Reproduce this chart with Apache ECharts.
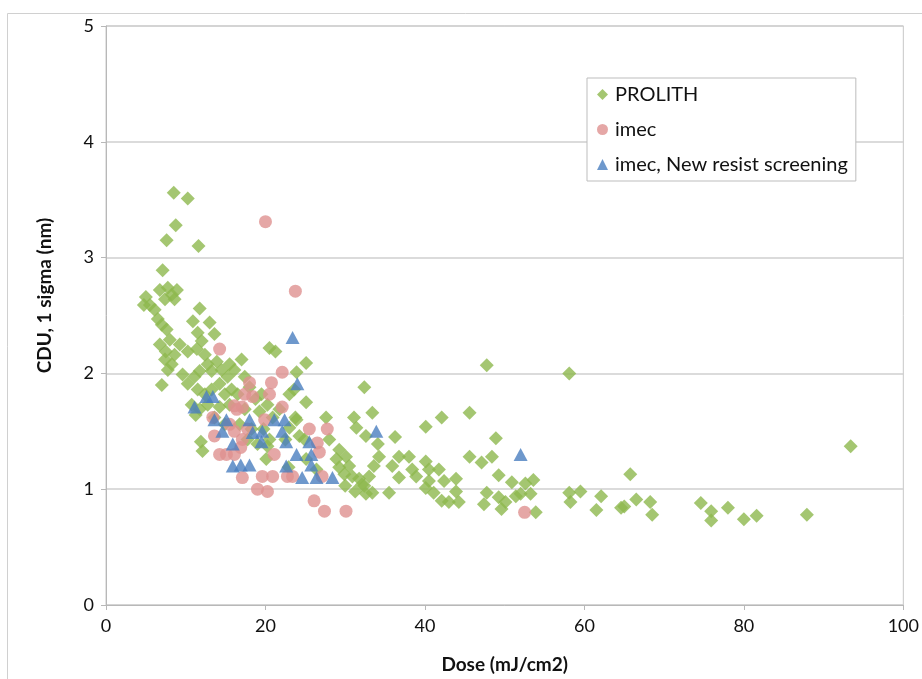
<!DOCTYPE html>
<html>
<head>
<meta charset="utf-8">
<script src="https://cdn.jsdelivr.net/npm/echarts@6/dist/echarts.min.js"></script>
<style>html,body{margin:0;padding:0;background:#fff}#c{width:922px;height:679px}</style>
</head>
<body>
<div id="c"></div>
<script>
var xTicks = [0, 20, 40, 60, 80, 100];
var yTicks = [0, 1, 2, 3, 4, 5];
var seriesNames = ['PROLITH', 'imec', 'imec, New resist screening'];

var prolithDose = [8.5,10.25,8.75,7.6,11.6,7.1,6.75,7.75,8.25,8.6,7.4,8.9,5,5.5,4.75,6.1,6.5,7,7.6,8,6.75,7.5,8.6,8.25,7.4,
  11.75,10.9,11.5,12,11.4,12.4,10.25,9.25,9.6,7.75,7,13,13.6,12.75,13.25,13.9,14.5,15.25,16.1,17,15.5,
  10.25,11.1,11.75,11.5,12.4,13.25,14.25,14.9,15.75,16.5,17.4,18,18.75,19.5,20.25,20.9,21.75,19.25,17.4,15.5,
  14.25,12.75,11.75,11.25,10.75,13.6,14.9,16.75,18.25,19.75,20.5,19,17.75,11.9,12.1,22.5,23,23.75,
  20.5,21.25,25.1,23.9,23.6,23,25.1,23.9,27.6,31.1,31.4,32.4,24.25,24.9,28,29.25,30.1,28.9,30.5,29.25,
  30.9,29.9,31.75,32.4,20.25,20.1,25.1,26.4,30,31.25,22.9,
  47.75,33.4,42.1,45.6,40.1,32.6,36.25,48.9,34.1,45.6,48.4,47.1,36.75,38,40.1,34.25,33.6,35.9,38.4,40.5,
  41.75,49.25,50.9,53.6,52.6,33,36.75,38.9,40.5,42.4,43.9,32.1,33.4,35.5,40.1,41.1,43.9,42.1,43,44.25,
  47.75,49.25,50.1,49.6,51.4,52,53.25,47.4,53.9,32.6,
  58.1,93.4,65.75,58.1,59.5,58.25,62.1,61.5,65,64.6,66.5,68.25,68.5,74.6,75.9,75.9,78,80,81.6,87.9];
var prolithCdu = [3.56,3.51,3.28,3.15,3.10,2.89,2.72,2.74,2.68,2.64,2.64,2.72,2.66,2.59,2.59,2.55,2.47,2.42,2.38,2.29,2.25,2.19,2.16,2.08,2.12,
  2.56,2.45,2.35,2.28,2.21,2.16,2.19,2.25,1.99,2.03,1.9,2.44,2.34,2.08,2.02,2.1,2.03,1.97,2.03,2.12,2.08,
  1.91,1.97,2.02,1.86,1.82,1.86,1.91,1.82,1.86,1.82,1.97,1.88,1.78,1.82,1.73,1.62,1.69,1.67,1.69,1.73,
  1.71,1.73,1.69,1.64,1.73,1.62,1.56,1.56,1.52,1.52,1.43,1.39,1.43,1.41,1.33,1.43,1.53,1.62,
  2.22,2.19,2.09,2.01,1.86,1.82,1.75,1.6,1.62,1.62,1.53,1.88,1.46,1.43,1.43,1.34,1.28,1.26,1.2,1.19,
  1.11,1.13,1.09,1.03,1.37,1.26,1.26,1.17,1.03,0.98,1.19,
  2.07,1.66,1.62,1.66,1.54,1.46,1.45,1.44,1.39,1.28,1.28,1.23,1.28,1.28,1.24,1.28,1.2,1.2,1.17,1.17,
  1.17,1.12,1.06,1.08,1.05,1.11,1.1,1.11,1.07,1.07,1.09,1.04,0.97,0.97,1.01,0.97,0.98,0.9,0.89,0.89,
  0.97,0.93,0.89,0.83,0.94,0.96,0.96,0.87,0.8,0.96,
  2.0,1.37,1.13,0.97,0.98,0.89,0.94,0.82,0.85,0.84,0.91,0.89,0.78,0.88,0.81,0.73,0.84,0.74,0.77,0.78];

var imecDose = [20,23.75,14.25,22.1,18,20.75,17.4,18.4,20.5,16.1,17.1,22.1,19.9,25.5,27.75,15.5,16.1,17.1,26.5,26.75,
  21.1,16.1,17.1,19.6,20.9,22.75,23.4,27.1,19,20.25,26.1,27.4,30.1,52.5,13.4,13.6,14.25,15.1,16.9,17.75,16.4];
var imecCdu = [3.31,2.71,2.21,2.01,1.92,1.92,1.82,1.8,1.82,1.72,1.71,1.71,1.6,1.52,1.52,1.56,1.5,1.43,1.4,1.32,
  1.3,1.3,1.1,1.11,1.11,1.11,1.11,1.11,1.0,0.98,0.9,0.81,0.81,0.8,1.62,1.46,1.3,1.3,1.36,1.52,1.69];

var newResistDose = [23.4,24,12.6,13.4,11.1,13.6,15.1,14.6,15.9,15.9,16.9,18,18,21.1,22.4,18.4,19.6,22.1,19.5,22.6,
  25.5,23.9,25.75,22.6,25.75,24.6,26.4,28.4,33.9,52];
var newResistCdu = [2.31,1.91,1.8,1.8,1.71,1.6,1.6,1.5,1.39,1.2,1.21,1.21,1.6,1.6,1.6,1.49,1.5,1.5,1.41,1.41,
  1.41,1.3,1.3,1.2,1.21,1.1,1.1,1.1,1.5,1.3];

function zip(xs, ys) { return xs.map(function (x, i) { return [x, ys[i]]; }); }

var FONT = 'Lato, "Open Sans", sans-serif';
var chart = echarts.init(document.getElementById('c'), null, { renderer: 'canvas' });
chart.setOption({
  animation: false,
  backgroundColor: '#fff',
  graphic: [{
    type: 'rect', left: 5, top: 11, silent: true, z: -10,
    shape: { width: 940, height: 700 },
    style: { fill: 'none', stroke: '#d0d0d0', lineWidth: 1 }
  }],
  grid: { left: 106, right: 17, top: 26, bottom: 73, show: true, borderColor: '#c8c8c8', borderWidth: 1, backgroundColor: 'transparent' },
  legend: {
    orient: 'vertical', left: 587, top: 78,
    data: seriesNames,
    itemWidth: 11, itemHeight: 11, itemGap: 14,
    padding: [6, 8, 6, 10],
    borderColor: '#bdbdbd', borderWidth: 1, backgroundColor: '#fff',
    textStyle: { fontFamily: FONT, fontSize: 20, color: '#111', lineHeight: 21, padding: [0, 0, 0, 2] }
  },
  xAxis: {
    type: 'value', min: 0, max: 100, interval: 20,
    name: 'Dose (mJ/cm2)', nameLocation: 'middle', nameGap: 50,
    nameTextStyle: { fontFamily: FONT, fontSize: 19, fontWeight: 'bold', color: '#111' },
    axisLine: { show: true, lineStyle: { color: '#b8b8b8' } },
    axisTick: { show: true, length: 5, lineStyle: { color: '#b8b8b8' } },
    axisLabel: { fontFamily: FONT, fontSize: 18, color: '#111', margin: 12,
      formatter: function (v) { return xTicks.indexOf(v) >= 0 ? String(v) : ''; } },
    splitLine: { show: false }
  },
  yAxis: {
    type: 'value', min: 0, max: 5, interval: 1,
    name: 'CDU, 1 sigma (nm)', nameLocation: 'middle', nameGap: 52,
    nameTextStyle: { fontFamily: FONT, fontSize: 19, fontWeight: 'bold', color: '#111', padding: [0, 0, 0, 40] },
    axisLine: { show: true, lineStyle: { color: '#b8b8b8' } },
    axisTick: { show: true, length: 5, lineStyle: { color: '#b8b8b8' } },
    axisLabel: { fontFamily: FONT, fontSize: 18, color: '#111', margin: 12,
      formatter: function (v) { return yTicks.indexOf(v) >= 0 ? String(v) : ''; } },
    splitLine: { show: true, lineStyle: { color: '#cfcfcf', width: 1.5 } }
  },
  series: [
    { name: seriesNames[0], type: 'scatter', symbol: 'diamond', symbolSize: 14,
      itemStyle: { color: '#8DB84E' }, data: zip(prolithDose, prolithCdu), z: 2 },
    { name: seriesNames[1], type: 'scatter', symbol: 'circle', symbolSize: 13,
      itemStyle: { color: '#DE9190' }, data: zip(imecDose, imecCdu), z: 3 },
    { name: seriesNames[2], type: 'scatter', symbol: 'triangle', symbolSize: [14, 13],
      itemStyle: { color: '#4A7EBF' }, data: zip(newResistDose, newResistCdu), z: 4 }
  ]
});
</script>
</body>
</html>
